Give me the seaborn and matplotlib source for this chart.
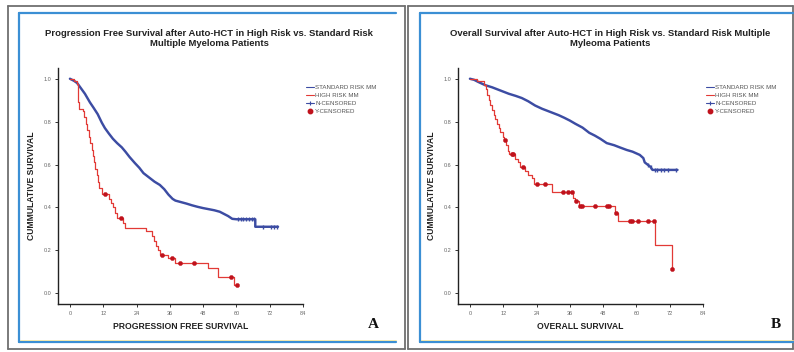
import numpy as np
import pandas as pd
import matplotlib
matplotlib.use("Agg")
import matplotlib.pyplot as plt
import seaborn as sns
from matplotlib.lines import Line2D

# ---------------- data ----------------
# Panel A: progression free survival
pfs_std_t = [0, 1.5, 2.6, 4, 5.4, 7.2, 8.5, 10, 11.5, 12.6, 14, 15.5, 17, 18.7, 20, 21.5,
             23.4, 25, 26.5, 28.8, 30.5, 32.4, 34, 35.5, 37, 38, 40, 42, 44, 46, 48, 50,
             52, 54, 55.5, 57, 58.5, 60, 66.8, 66.8, 75]
pfs_std_s = [1.0, 0.99, 0.98, 0.955, 0.93, 0.89, 0.865, 0.835, 0.795, 0.77, 0.745, 0.72,
             0.70, 0.68, 0.66, 0.635, 0.607, 0.585, 0.56, 0.537, 0.52, 0.505, 0.485, 0.46,
             0.44, 0.432, 0.425, 0.418, 0.41, 0.403, 0.397, 0.392, 0.387, 0.38, 0.37, 0.36,
             0.347, 0.345, 0.345, 0.31, 0.31]
pfs_std_cens_t = [60.5, 61.5, 62.5, 63.5, 64.5, 65.5, 66.3, 69.6, 72.5, 73.4, 74.8]
pfs_std_cens_s = [0.345, 0.345, 0.345, 0.345, 0.345, 0.345, 0.345, 0.31, 0.31, 0.31, 0.31]

pfs_high_t = [0, 1.5, 2.5, 2.8, 3.0, 3.2, 4.6, 5.2, 5.8, 6.3, 6.8, 7.3, 7.8, 8.3, 8.8, 9.2,
              9.6, 10.0, 10.6, 11.5, 14.0, 14.8, 15.5, 16.3, 17.0, 19.0, 19.8, 27.5, 29.5,
              30.2, 31.0, 31.8, 32.6, 35.5, 38.0, 49.7, 53.3, 59.3, 60.2]
pfs_high_s = [1.0, 0.99, 0.975, 0.93, 0.89, 0.86, 0.85, 0.82, 0.79, 0.76, 0.73, 0.70, 0.67,
              0.64, 0.61, 0.58, 0.55, 0.52, 0.49, 0.463, 0.44, 0.42, 0.40, 0.375, 0.35, 0.327,
              0.305, 0.29, 0.268, 0.245, 0.222, 0.20, 0.178, 0.165, 0.14, 0.118, 0.077, 0.04,
              0.04]
pfs_high_cens_t = [12.6, 18.3, 33.3, 36.8, 39.5, 44.7, 58.0, 60.1]
pfs_high_cens_s = [0.463, 0.35, 0.178, 0.165, 0.14, 0.14, 0.077, 0.04]

# Panel B: overall survival
os_std_t = [0, 1.5, 3, 5.5, 8, 10, 12, 14, 16.5, 18.7, 21, 23.5, 26, 28, 30, 32, 34, 36, 38,
            40.6, 43, 45, 47, 49.3, 52, 54, 56.5, 58.6, 61.2, 62.5, 63, 64, 65, 65.8, 74.8]
os_std_s = [1.0, 0.995, 0.985, 0.97, 0.96, 0.95, 0.94, 0.93, 0.92, 0.91, 0.895, 0.875, 0.86,
            0.85, 0.84, 0.83, 0.818, 0.805, 0.79, 0.772, 0.748, 0.735, 0.72, 0.70, 0.69, 0.68,
            0.668, 0.66, 0.645, 0.63, 0.61, 0.60, 0.59, 0.575, 0.575]
os_std_cens_t = [64.3, 65.2, 66.8, 67.3, 69.0, 70.1, 71.3, 74.3]
os_std_cens_s = [0.60, 0.59, 0.575, 0.575, 0.575, 0.575, 0.575, 0.575]

os_high_t = [0, 2.5, 5.2, 5.8, 6.3, 6.9, 7.4, 8.0, 8.6, 9.1, 9.6, 10.3, 11.0, 12.0, 12.4,
             13.0, 13.6, 14.2, 16.2, 17.2, 18.2, 20.0, 21.0, 22.2, 23.0, 29.5, 37.2, 38.0,
             39.2, 52.3, 53.2, 66.6, 72.7]
os_high_s = [1.0, 0.99, 0.97, 0.95, 0.925, 0.90, 0.878, 0.855, 0.83, 0.81, 0.79, 0.77, 0.75,
             0.73, 0.715, 0.69, 0.665, 0.648, 0.628, 0.61, 0.59, 0.572, 0.553, 0.535, 0.51,
             0.473, 0.443, 0.432, 0.407, 0.374, 0.336, 0.224, 0.115]
os_high_cens_t = [12.6, 15.0, 15.5, 19.0, 24.0, 27.0, 33.4, 35.3, 36.7, 38.3, 39.6, 40.5,
                  45.0, 49.3, 50.0, 52.5, 57.6, 58.3, 60.5, 64.2, 66.5, 72.7]
os_high_cens_s = [0.715, 0.648, 0.648, 0.59, 0.51, 0.51, 0.473, 0.473, 0.473, 0.432, 0.407,
                  0.407, 0.407, 0.407, 0.407, 0.374, 0.336, 0.336, 0.336, 0.336, 0.336, 0.115]

x_ticks = [0, 12, 24, 36, 48, 60, 72, 84]
y_ticks = [0.0, 0.2, 0.4, 0.6, 0.8, 1.0]
y_tick_labels = ["0.0", "0.2", "0.4", "0.6", "0.8", "1.0"]
legend_labels = ["STANDARD RISK MM", "HIGH RISK MM", "N-CENSORED", "Y-CENSORED"]

titles = ["Progression Free Survival after Auto-HCT in High Risk vs. Standard Risk\nMultiple Myeloma Patients",
          "Overall Survival after Auto-HCT in High Risk vs. Standard Risk Multiple\nMyleoma Patients"]
xlabels = ["PROGRESSION FREE SURVIVAL", "OVERALL SURVIVAL"]
ylabel = "CUMMULATIVE SURVIVAL"
letters = ["A", "B"]

# ---------------- style ----------------
sns.set_theme(style="white")
plt.rcParams["font.family"] = ["Liberation Sans", "DejaVu Sans"]

BLUE = "#3c4ca3"
RED = "#e23a36"
DOT = "#c0121c"
GRAY_FRAME = "#6f6f6f"
BLUE_FRAME = "#3b8fd4"

W, H = 794, 352
fig = plt.figure(figsize=(W / 100, H / 100), dpi=100)
fig.patch.set_facecolor("white")


def fx(px):
    return px / W


def fy(py):
    return 1 - py / H


def hline(x0, x1, y, color, lw):
    fig.add_artist(Line2D([fx(x0), fx(x1)], [fy(y), fy(y)], color=color, lw=lw,
                          transform=fig.transFigure))


def vline(x, y0, y1, color, lw):
    fig.add_artist(Line2D([fx(x), fx(x)], [fy(y0), fy(y1)], color=color, lw=lw,
                          transform=fig.transFigure))


# panel frames
for gx0, gx1, bx0, bx1 in [(8, 405, 19, 396), (408, 793, 420, 793)]:
    hline(gx0, gx1, 5.5, GRAY_FRAME, 1.3)
    hline(gx0, gx1, 348.5, GRAY_FRAME, 1.3)
    vline(gx0, 5.5, 348.5, GRAY_FRAME, 1.3)
    vline(gx1, 5.5, 348.5, GRAY_FRAME, 1.3)
    hline(bx0, bx1, 13, BLUE_FRAME, 1.6)
    hline(bx0, bx1, 341.5, BLUE_FRAME, 1.6)
    hline(bx0 + 1, bx1, 339.6, "#f2e6a0", 0.6)
    vline(bx0, 13, 341.5, BLUE_FRAME, 1.6)

panels = [
    (58, pfs_std_t, pfs_std_s, pfs_std_cens_t, pfs_std_cens_s,
     pfs_high_t, pfs_high_s, pfs_high_cens_t, pfs_high_cens_s, 209, 306, 373),
    (458, os_std_t, os_std_s, os_std_cens_t, os_std_cens_s,
     os_high_t, os_high_s, os_high_cens_t, os_high_cens_s, 610, 706, 776),
]

for i, (left, st, ss, sct, scs, ht, hs, hct, hcs, title_x, leg_x, let_x) in enumerate(panels):
    ax = fig.add_axes([fx(left), fy(304), (303 - 58) / W, (304 - 68) / H])
    ax.set_facecolor("white")

    std_df = pd.DataFrame({"t": st, "s": ss})
    high_df = pd.DataFrame({"t": ht, "s": hs})
    sns.lineplot(data=std_df, x="t", y="s", ax=ax, color=BLUE, lw=1.75,
                 estimator=None, sort=False)
    sns.lineplot(data=high_df, x="t", y="s", ax=ax, color=RED, lw=0.9,
                 estimator=None, sort=False, drawstyle="steps-post")
    ax.plot(sct, scs, ls="none", marker="|", color=BLUE, ms=3.5, mew=1.0)
    sns.scatterplot(x=hct, y=hcs, ax=ax, color=DOT, s=9, edgecolor=DOT,
                    linewidth=0.3, zorder=5)

    ax.set_xlim(-4.3, 84)
    ax.set_ylim(-0.05, 1.05)
    ax.set_xticks(x_ticks)
    ax.set_xticklabels([str(v) for v in x_ticks])
    ax.set_yticks(y_ticks)
    ax.set_yticklabels(y_tick_labels)
    ax.tick_params(axis="both", which="both", bottom=True, left=True, direction="out",
                   length=2.2, width=0.7, color="#333333", labelsize=4,
                   labelcolor="#666666", pad=2.5)
    for sp in ["top", "right"]:
        ax.spines[sp].set_visible(False)
    for sp in ["left", "bottom"]:
        ax.spines[sp].set_color("#222222")
        ax.spines[sp].set_linewidth(1.0)

    ax.set_xlabel(xlabels[i], fontsize=6.2, fontweight="bold", color="#222222")
    ax.xaxis.set_label_coords(0.5, (304 - 322) / 236)
    ax.set_ylabel(ylabel, fontsize=6.2, fontweight="bold", color="#222222")
    ax.yaxis.set_label_coords((36 - 58) / 245, 0.5)

    fig.text(fx(title_x), fy(38.5), titles[i], ha="center", va="center",
             fontsize=6.8, fontweight="bold", color="#222222", linespacing=1.05)

    handles = [
        Line2D([], [], color=BLUE, lw=0.8, drawstyle="steps-post"),
        Line2D([], [], color=RED, lw=0.8),
        Line2D([], [], color=BLUE, lw=0.8, marker="+", ms=3.5, mew=0.8),
        Line2D([], [], color=DOT, lw=0, marker="o", ms=3.2),
    ]
    leg = ax.legend(handles, legend_labels, loc="upper left",
                    bbox_to_anchor=(fx(leg_x), fy(85)), bbox_transform=fig.transFigure,
                    frameon=False, fontsize=4.4, handlelength=1.3, handletextpad=0.2,
                    labelspacing=0.45, borderpad=0, borderaxespad=0)
    for txt in leg.get_texts():
        txt.set_color("#555555")

    fig.text(fx(let_x), fy(325), letters[i], ha="center", va="center", fontsize=11,
             fontweight="bold", family=["Liberation Serif", "DejaVu Serif"], color="#111111")

fig.savefig("out.png", dpi=100, facecolor="white")
